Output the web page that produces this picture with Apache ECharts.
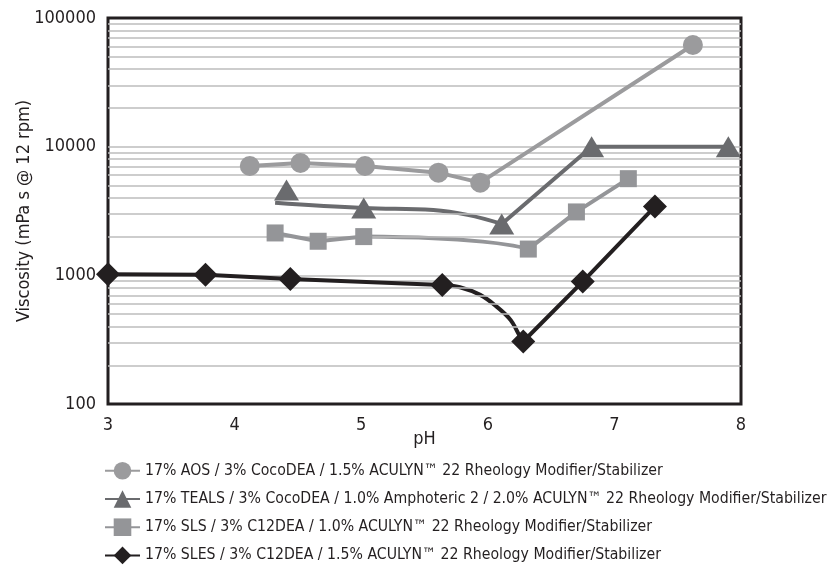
<!DOCTYPE html>
<html>
<head>
<meta charset="utf-8">
<script src="https://cdn.jsdelivr.net/npm/echarts@6/dist/echarts.min.js"></script>
<style>
html,body{margin:0;padding:0;background:#fff;}
#chart{width:831px;height:569px;}
</style>
</head>
<body>
<div id="chart"></div>
<script>
// ---- data ----
const seriesNames = [
  '17% AOS / 3% CocoDEA / 1.5% ACULYN\u2122 22 Rheology Modifier/Stabilizer',
  '17% TEALS / 3% CocoDEA / 1.0% Amphoteric 2 / 2.0% ACULYN\u2122 22 Rheology Modifier/Stabilizer',
  '17% SLS / 3% C12DEA / 1.0% ACULYN\u2122 22 Rheology Modifier/Stabilizer',
  '17% SLES / 3% C12DEA / 1.5% ACULYN\u2122 22 Rheology Modifier/Stabilizer'
];
const xTicks = [3, 4, 5, 6, 7, 8];
const yTicks = [100, 1000, 10000, 100000];

// AOS (circles)
const aosPH   = [4.12, 4.52, 5.03, 5.61, 5.94, 7.62];
const aosVisc = [7080, 7470, 7080, 6280, 5250, 61700];

// TEALS (triangles)
const tealsPH   = [4.41, 5.02, 6.11, 6.82, 7.90];
const tealsVisc = [4610, 3340, 2510, 10000, 10000];
// trend curve drawn in the reference from pH 4.32 to the 6.11 point
const tealsCurvePH   = [4.32, 5.02, 5.57, 5.84, 6.11];
const tealsCurveVisc = [3670, 3340, 3220, 2950, 2510];

// SLS (squares)
const slsPH   = [4.32, 4.66, 5.02, 6.32, 6.70, 7.11];
const slsVisc = [2135, 1840, 2000, 1600, 3110, 5640];
const slsCurvePH   = [5.02, 5.57, 5.96, 6.20, 6.32];
const slsCurveVisc = [2000, 1942, 1828, 1702, 1600];

// SLES (diamonds)
const slesPH   = [3.00, 3.77, 4.44, 5.64, 6.28, 6.75, 7.32];
const slesVisc = [1020, 1010, 938, 842, 306, 894, 3420];
const slesCurvePH   = [5.64, 5.78, 5.94, 6.07, 6.18, 6.24, 6.28];
const slesCurveVisc = [842, 808, 705, 571, 450, 355, 306];

// ---- build ----
const pts = (xs, ys, from, to) => xs.slice(from, to).map((x, i) => [x, ys.slice(from, to)[i]]);
const FONT = "'Liberation Sans Narrow', 'DejaVu Sans Condensed', 'Liberation Sans', sans-serif";
const colAOS = '#9b9b9d', colTEALS = '#6a6b6e', colSLS = '#949598', colSLES = '#231f20';

const minorVals = [];
[100, 1000, 10000].forEach(d => { for (let m = 2; m <= 9; m++) minorVals.push(d * m); });

function lineSeries(name, data, color, symbol, size, extra) {
  return Object.assign({
    name: name, type: 'line', data: data,
    symbol: symbol, symbolSize: size, showSymbol: symbol !== 'none',
    lineStyle: { color: color, width: 4 },
    itemStyle: { color: color },
    z: 5, animation: false, silent: true
  }, extra || {});
}

const series = [
  // grid lines (minor + major) underneath
  {
    name: 'grid', type: 'line', data: [], silent: true, z: 1, animation: false,
    markLine: {
      silent: true, symbol: 'none', animation: false,
      label: { show: false },
      lineStyle: { color: '#bcbcbc', width: 1.5, type: 'solid' },
      data: minorVals.concat([1000, 10000]).map(v => ({ yAxis: v }))
    }
  },
  // AOS
  lineSeries(seriesNames[0], pts(aosPH, aosVisc, 0, 6), colAOS, 'circle', 20),
  // TEALS: straight part with markers (legend carrier)
  lineSeries(seriesNames[1], pts(tealsPH, tealsVisc, 2, 5), colTEALS, 'triangle', [25, 21]),
  lineSeries(seriesNames[1], pts(tealsCurvePH, tealsCurveVisc, 0, 5), colTEALS, 'none', 0, { smooth: 0.4, z: 4 }),
  { name: seriesNames[1], type: 'scatter', data: pts(tealsPH, tealsVisc, 0, 2), symbol: 'triangle', symbolSize: [25, 21],
    itemStyle: { color: colTEALS, opacity: 1 }, z: 6, animation: false, silent: true },
  // SLS
  lineSeries(seriesNames[2], pts(slsPH, slsVisc, 3, 6), colSLS, 'rect', 17),
  lineSeries(seriesNames[2], pts(slsPH, slsVisc, 0, 3), colSLS, 'rect', 17),
  lineSeries(seriesNames[2], pts(slsCurvePH, slsCurveVisc, 0, 5), colSLS, 'none', 0, { smooth: 0.4, z: 4 }),
  // SLES
  lineSeries(seriesNames[3], pts(slesPH, slesVisc, 4, 7), colSLES, 'diamond', 24),
  lineSeries(seriesNames[3], pts(slesPH, slesVisc, 0, 4), colSLES, 'diamond', 24),
  lineSeries(seriesNames[3], pts(slesCurvePH, slesCurveVisc, 0, 7), colSLES, 'none', 0, { smooth: 0.4, z: 4 })
];

const chart = echarts.init(document.getElementById('chart'), null, { renderer: 'canvas' });
chart.setOption({
  animation: false,
  backgroundColor: '#fff',
  grid: {
    left: 108, right: 90, top: 18, bottom: 165,
    outerBoundsMode: 'none', containLabel: false,
    show: true, borderColor: '#231f20', borderWidth: 3, backgroundColor: 'transparent'
  },
  xAxis: {
    type: 'value', min: xTicks[0], max: xTicks[xTicks.length - 1], interval: 1,
    name: 'pH', nameLocation: 'middle', nameGap: 26, nameMoveOverlap: false,
    nameTextStyle: { fontFamily: FONT, fontSize: 18, color: '#231f20' },
    axisLine: { show: false }, axisTick: { show: false }, splitLine: { show: false },
    axisLabel: { fontFamily: FONT, fontSize: 18, color: '#231f20', margin: 12 }
  },
  yAxis: {
    type: 'log', logBase: 10, min: yTicks[0], max: yTicks[yTicks.length - 1],
    name: 'Viscosity (mPa s @ 12 rpm)', nameLocation: 'middle', nameGap: 75, nameMoveOverlap: false,
    nameTextStyle: { fontFamily: FONT, fontSize: 18, color: '#231f20' },
    axisLine: { show: false }, axisTick: { show: false }, splitLine: { show: false },
    axisLabel: { fontFamily: FONT, fontSize: 18, color: '#231f20', margin: 12,
      formatter: v => String(Math.round(v)) }
  },
  legend: {
    data: seriesNames,
    orient: 'vertical', left: 99, top: 457, height: 130, width: 740,
    itemWidth: 35, itemHeight: 22, itemGap: 10.6,
    textStyle: { fontFamily: FONT, fontSize: 15.7, color: '#231f20' },
    selectedMode: false
  },
  series: series
});
</script>
</body>
</html>
